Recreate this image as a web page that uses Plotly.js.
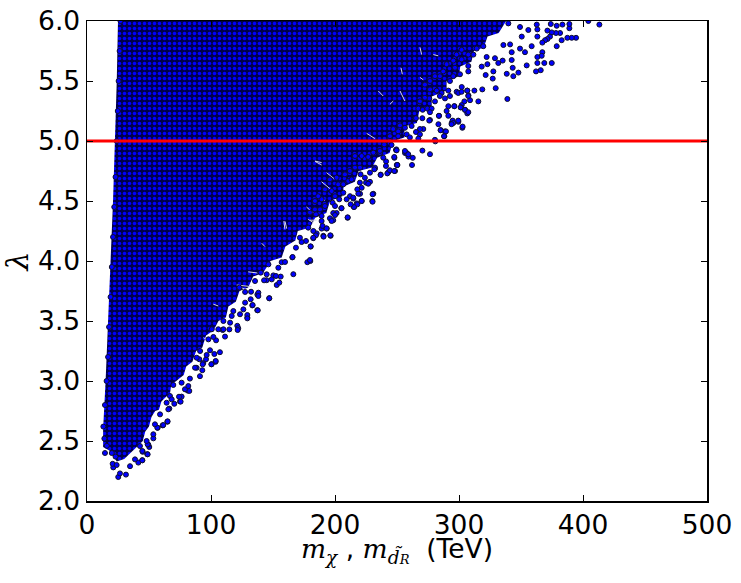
<!DOCTYPE html>
<html><head><meta charset="utf-8">
<script src="https://cdn.plot.ly/plotly-3.0.0.min.js"></script>
<style>html,body{margin:0;padding:0;background:#fff}</style></head>
<body><div id="c" style="width:741px;height:583px"></div>
<script>
// Outline of the region so dense that individual points cannot be read
const denseOutline = [[25,6],[24,5.5],[22.5,5],[21,4.5],[19,4],[17,3.5],[15,3],[13,2.6],[13,2.45],[18,2.42],[24,2.33],[30,2.35],[38,2.43],[45,2.5],[47,2.58],[50,2.62],[52,2.7],[55,2.75],[58,2.76],[60,2.83],[63,2.86],[67,2.9],[68,2.97],[72,3],[78,3.05],[80,3.12],[85,3.16],[88,3.25],[93,3.28],[96,3.38],[102,3.42],[106,3.5],[112,3.53],[114,3.62],[120,3.66],[123,3.75],[130,3.78],[134,3.87],[142,3.9],[148,4],[157,4.03],[160,4.12],[168,4.17],[170,4.25],[180,4.28],[184,4.36],[193,4.4],[196,4.5],[206,4.54],[207,4.62],[216,4.66],[219,4.75],[230,4.78],[234,4.86],[244,4.9],[247,5],[256,5.03],[256,5.12],[266,5.15],[268,5.25],[278,5.28],[278,5.37],[290,5.42],[290,5.5],[300,5.54],[301,5.62],[310,5.66],[312,5.75],[320,5.78],[323,5.87],[332,5.9],[338,6]];
// Thin empty slits visible inside the dense region
const gapX = [253.2,254.3,null,252.4,256.4,null,234.9,238.9,null,244.3,247,null,268.5,269.9,null,279.3,283.3,null,268.5,271.2,null,183.8,189.2,null,193.2,200,null,186.5,191.9,null,158.8,159.6,null,178.4,182.5,null,120.7,132.8,null,130,137.4,null,140.9,143.5,null,159.7,161,null,177,182.5,null,179.8,185.2,null,189.2,198.6,null,183.9,189.2,null,225.5,232.2,null,101.9,105.9,null,93.9,99.2,null,122.1,127.5];
const gapY = [5.61,5.556,null,5.417,5.333,null,5.417,5.375,null,5.306,5.333,null,5.78,5.72,null,5.72,5.71,null,5.53,5.51,null,4.833,4.82,null,4.736,4.68,null,4.528,4.505,null,4.333,4.264,null,4.347,4.32,null,3.8,3.786,null,3.91,3.9,null,4.148,4.12,null,4.33,4.27,null,4.45,4.4,null,4.34,4.34,null,4.66,4.58,null,4.83,4.8,null,5.064,5.02,null,3.64,3.625,null,3.36,3.333,null,3.79,3.764];
// Individually readable points along the sparse edge
const edgePoints = [[413.2,5.97],[404.3,6],[394.4,5.86],[390.9,5.86],[387.4,5.86],[389,5.94],[389,5.975],[383.4,5.97],[378.8,5.96],[374,5.975],[381.5,5.9],[378.2,5.9],[374.8,5.905],[382.8,5.84],[378.8,5.79],[373.4,5.87],[371.3,5.85],[369.4,5.84],[371.3,5.92],[363.2,5.93],[362.7,5.97],[363.2,5.87],[367.2,5.82],[367.2,5.74],[366.7,5.71],[363.2,5.7],[374.8,5.65],[368.8,5.65],[363.2,5.65],[365.9,5.59],[362.1,5.58],[354.6,5.63],[347.9,5.57],[343.3,5.61],[343.8,5.54],[338.5,5.56],[339,5.35],[329.6,5.44],[318.8,5.43],[315.6,5.33],[312.4,5.42],[308.9,5.34],[307.6,5.38],[306.7,5.42],[302.2,5.45],[298.1,5.41],[296.3,5.29],[304.3,5.33],[302.2,5.3],[301.6,5.28],[304.9,5.26],[306.7,5.23],[302.7,5.11],[299.5,5.16],[294.1,5.15],[294.9,5.17],[288.7,5.08],[288.2,5.04],[285.2,5.09],[283.4,5.14],[283.9,5.21],[276.6,5.175],[280.9,4.997],[276.6,4.89],[270.5,4.92],[262.7,4.86],[259.2,4.87],[256.5,4.9],[249.2,4.925],[247.9,4.86],[241.2,4.83],[249.8,4.8],[262.1,4.8],[342.5,5.675],[335.2,5.67],[331.7,5.65],[327.7,5.58],[321.5,5.55],[318.3,5.62],[322.9,5.64],[327.2,5.52],[353.2,5.74],[349.2,5.77],[358.6,5.79],[350.6,5.87],[349.2,5.95],[339.8,5.98],[355.9,5.925],[335.8,5.8],[341.2,5.805],[342.5,5.74],[329,5.69],[322.3,5.7],[311.6,5.72],[314.3,5.77],[319.6,5.79],
[147,3.69],[166.4,3.89],[153,3.8],[155.1,3.82],[156.2,3.87],[177.7,3.99],[180.1,4],[180.4,4.12],[196.5,4.21],[190.6,4.21],[210.2,4.36],[205.1,4.44],[230.1,4.5],[230.9,4.56],[221.5,4.5],[217.5,4.48],[215.3,4.45],[236.8,4.72],[243,4.74],[248.4,4.75],[250.3,4.8],[249.5,4.93],[257.8,4.9],[220.2,4.56],[212.1,4.54],[214.8,4.52],[193.3,4.27],[189.2,4.27],[182.5,4.19],[165.6,4.03],[157,3.99],[137.4,3.72],[144.9,3.84],[150.3,3.88],[236.3,4.9],[228.2,4.66],[221.5,4.61],[232.2,4.77],[198.6,4.34],[201.3,4.4],[185.2,4.23],
[25.2,2.2],[31.4,2.22],[34.7,2.29],[26.6,2.23],[21.2,2.28],[20.7,2.31],[44.6,2.34],[41.4,2.32],[48.6,2.39],[14.5,2.4],[44.9,2.41],[50.2,2.45],[49.4,2.47],[64.8,2.66],[61,2.63],[57,2.61],[70.4,2.81],[66.4,2.77],[75,2.83],[81.2,2.92],[83,3.02],[91.1,3.04],[93,3.09],[100.5,3.14],[103.7,3.16],[107.2,3.24],[102.7,3.225],[111.3,3.37],[114.8,3.43],[109.4,3.425],[121.2,3.46],[129.3,3.53],[129.3,3.55],[137.3,3.59],[133.3,3.63],[122,3.44],[93.8,3.15],[88.4,3.11],[76.3,2.87],[23.9,2.3],
[14,2.52],[13.2,2.62],[14.5,2.8],[15.8,3],[17,3.2],[17.8,3.45],[19,3.7],[20,3.95],[21,4.2],[22,4.45],[23,4.7],[24,5],[24.8,5.25],[25.5,5.5],[26.3,5.75],[27,6],[16,2.46],[20,2.4],[23,2.37],
[307.5,5.625],[307.5,5.58],[300.8,5.556],[295.4,5.54],[292.7,5.5],[284.6,5.54],[280.6,5.54],[276.6,5.5],[272.5,5.47],[276.6,5.43],[282,5.42],[286,5.4],[291.4,5.42],[299.4,5.4],[302.1,5.41],[306.7,5.42],[307.5,5.375],[292.7,5.375],[288.7,5.355],[284.6,5.375],[280.6,5.33],[276,5.355],[272.5,5.36],[268.5,5.33],[267.2,5.27],[270.7,5.26],[274.4,5.27],[277.9,5.27],[276.6,5.24],[270.4,5.19],[265.3,5.19],[276,5.17],[283.8,5.21],[290,5.25],[291.4,5.29],[296.2,5.29],[301.3,5.28],[304.8,5.26],[307.5,5.24],[291.4,5.21],[299.4,5.17],[295.4,5.15],[294,5.14],[302.9,5.12],[289.5,5.08],[285.2,5.09],[287.9,5.04],[271.2,5.1],[268.5,5.1],[265.3,5.075],[268.5,5.055],[261.8,5.125],[256.4,5.11],[252.4,5.13],[257.8,5.055],[251,5.08],[260.4,5.03],[247,5.1],[244.3,5.04],[251,5.04],[267.2,5.02],[280.6,5.01],[298,5.72],[302.1,5.76],[307.5,5.72],[295.4,5.67],[290,5.64],[302.1,5.68],[296.7,5.61],[287.3,5.58],
[230.3,4.556],[230.3,4.494],[210.2,4.364],[221.5,4.5],[218,4.472],[215.3,4.45],[212.6,4.472],[209.4,4.514],[214.7,4.528],[218,4.597],[218.8,4.561],[206.7,4.569],[203.4,4.514],[200,4.54],[198.1,4.486],[200,4.458],[205.3,4.44],[198.6,4.4],[200,4.383],[195.9,4.356],[189.2,4.375],[184.6,4.389],[179.8,4.403],[183.8,4.43],[187.9,4.43],[191.9,4.458],[189.2,4.514],[183.8,4.5],[186.5,4.54],[191.9,4.597],[197.3,4.583],[202.6,4.639],[206.7,4.639],[210.7,4.667],[213.4,4.68],[220.1,4.653],[225,4.653],[226.8,4.644],[224.1,4.694],[220.1,4.778],[216.1,4.778],[212,4.75],[208,4.722],[201.3,4.694],[195.9,4.68],[232.2,4.778],[231.7,4.764],[236.8,4.717],[242.2,4.73],[244.3,4.756],[247.8,4.75],[250.2,4.8],[241.1,4.792],[238.9,4.861],[247.8,4.867],[226.8,4.867],[221.5,4.875],[216.1,4.875],[230.9,4.903],[236.2,4.917],[239.7,4.972],[245.6,4.967],[249.7,4.922],[256.4,4.917],[259.1,4.889],[228.2,4.736],[220.6,4.722],[196.2,4.214],[190.8,4.203],[190,4.292],[193.2,4.272],[184.6,4.214],[182.5,4.194],[180.3,4.122],[176.6,4.167],[173.1,4.158],[168.5,4.111],[165.8,4.033],[179.8,4.008],[197.3,4.333],[189.2,4.333],[182.5,4.25],[178.4,4.278],[171.7,4.194],
[147,3.689],[137.7,3.589],[129.3,3.522],[133.6,3.633],[126.1,3.597],[123.4,3.556],[118,3.583],[110,3.431],[121.5,3.425],[104.1,3.339],[103.8,3.167],[100.3,3.139],[96,3.181],[93.3,3.139],[87.1,3.111],[99.2,3.256],[96.5,3.217],[90.6,3.181],[152.4,3.875],[144.9,3.889],[149,3.847],[142.8,3.839],[138.2,3.736],[138.2,3.708],[132.3,3.744],[127.5,3.742],[132,3.681],[127.5,3.653],[122.9,3.778],[115.4,3.486],[116.7,3.542],[110,3.5],[105.9,3.431],[100.6,3.431],[101.9,3.367],[97.9,3.347],[91.2,3.25],[88.5,3.194],[154.3,3.944],[159.7,3.992],[146.3,3.972],[140.1,3.903],[135.5,3.833],
[75.5,2.828],[82.5,2.917],[79,2.931],[74.2,2.869],[65.6,2.764],[65,2.664],[61.5,2.633],[56.7,2.611],[48.9,2.472],[48.9,2.389],[44.6,2.339],[44.6,2.417],[38.7,2.347],[53.5,2.522],[53.5,2.556],[42.7,2.458],[66.9,2.875],[64.2,2.819],[58.9,2.722],[54.8,2.639],[48.1,2.5],[69.6,2.967],[76.3,2.986],[81.7,2.958],[68.3,2.847]];
const lineX = [0,500];
const lineY = [5,5];
const xTicks = [0,100,200,300,400,500];
const yTicks = [2,2.5,3,3.5,4,4.5,5,5.5,6];

const sans = 'DejaVu Sans';
const math = 'font-family:DejaVu Serif';
const data = [
 {type:'scatter',mode:'none',x:denseOutline.map(p=>p[0]),y:denseOutline.map(p=>p[1]),fill:'toself',
  fillcolor:'#00007a',fillpattern:{shape:'.',size:5,solidity:0.4,fgcolor:'#0000ff',bgcolor:'#00004a',fgopacity:1},hoverinfo:'skip'},
 {type:'scatter',mode:'lines',x:gapX,y:gapY,line:{color:'#d8d8e8',width:1},connectgaps:false,hoverinfo:'skip'},
 {type:'scatter',mode:'markers',x:edgePoints.map(p=>p[0]),y:edgePoints.map(p=>p[1]),
  marker:{color:'#0000ff',size:5,line:{color:'#10102a',width:1}}},
 {type:'scatter',mode:'lines',x:lineX,y:lineY,line:{color:'#ff0000',width:3}}
];
const layout = {
 width:741,height:583,showlegend:false,paper_bgcolor:'#fff',plot_bgcolor:'#fff',
 margin:{l:87,r:34,t:21,b:82,pad:0},
 font:{family:sans,color:'#000'},
 xaxis:{range:[0,500],tickvals:xTicks,ticks:'inside',ticklen:6,tickwidth:1,tickcolor:'#000',mirror:'ticks',showline:true,linecolor:'#000',linewidth:1.5,showgrid:false,zeroline:false,automargin:'height',
  tickfont:{size:26.5,family:sans},
  title:{text:`<i style="${math}">m</i><sub style="${math}"><i>χ</i></sub> , <i style="${math}">m</i><sub style="${math}"><i>d̃</i><span style="font-size:70%"><i>R</i></span></sub>  (TeV)`,font:{size:26.5,family:sans},standoff:0}},
 yaxis:{range:[2,6],tickvals:yTicks,tickformat:'.1f',ticks:'inside',ticklen:6,tickwidth:1,tickcolor:'#000',mirror:'ticks',showline:true,linecolor:'#000',linewidth:1.5,showgrid:false,zeroline:false,automargin:'width',
  tickfont:{size:26.5,family:sans},
  title:{text:`<i style="${math}">λ</i>`,font:{size:30,family:sans},standoff:2}}
};
Plotly.newPlot('c',data,layout,{displayModeBar:false,staticPlot:true}).then(gd=>{
  const t = gd.querySelector('.xtitle');
  if (t) t.setAttribute('transform','translate(0,-7)');
});
</script></body></html>
